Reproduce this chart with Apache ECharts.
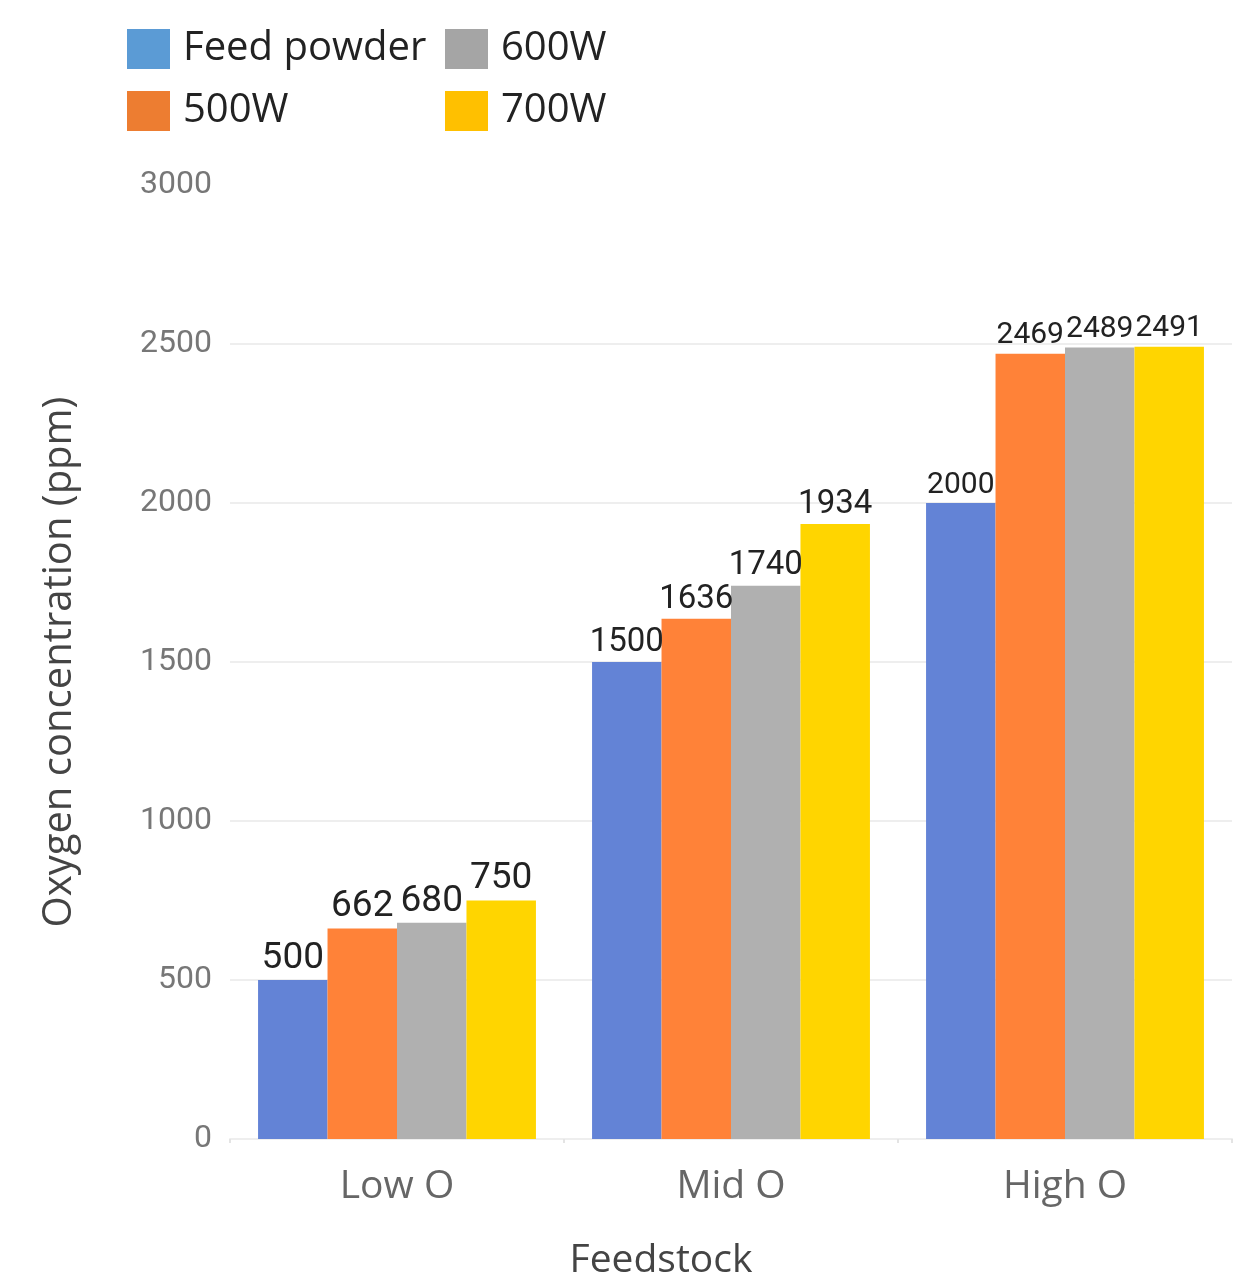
<!DOCTYPE html>
<html>
<head>
<meta charset="utf-8">
<script src="https://cdn.jsdelivr.net/npm/echarts@6/dist/echarts.min.js"></script>
<style>
  html, body { margin: 0; padding: 0; background: #fff; }
  #chart { width: 1238px; height: 1285px; }
</style>
</head>
<body>
<div id="chart"></div>
<script>
// Oxygen content by feedstock and processing power
const categories = ['Low O', 'Mid O', 'High O'];
const seriesNames = ['Feed powder', '500W', '600W', '700W'];
const feedPowder = [500, 1500, 2000];
const w500 = [662, 1636, 2469];
const w600 = [680, 1740, 2489];
const w700 = [750, 1934, 2491];
const yTicks = { min: 0, max: 3000, interval: 500 };

const barColors = ['#6383D6', '#FF8238', '#B0B0B0', '#FFD500'];
const legendColors = ['#5B9BD5', '#ED7D31', '#A5A5A5', '#FFC000'];
const labelSizes = [37, 33, 30];
const NUM_FONT = 'Roboto';
const TEXT_FONT = 'Open Sans';

const values = [feedPowder, w500, w600, w700];

const series = seriesNames.map((name, s) => ({
  name,
  type: 'bar',
  barGap: 0,
  barCategoryGap: '16.8%',
  itemStyle: { color: barColors[s] },
  data: values[s].map((v, i) => ({
    value: v,
    label: { fontSize: labelSizes[i] }
  })),
  label: {
    show: true,
    position: 'top',
    distance: 3,
    color: '#222',
    fontFamily: NUM_FONT
  }
}));

function legendData(names) {
  return names.map(n => ({
    name: n,
    itemStyle: { color: legendColors[seriesNames.indexOf(n)] }
  }));
}

const legendBase = {
  orient: 'vertical',
  top: 29,
  padding: 0,
  itemWidth: 43,
  itemHeight: 40,
  itemGap: 22,
  icon: 'rect',
  selectedMode: false,
  textStyle: { fontSize: 40, color: '#222', fontFamily: TEXT_FONT, padding: [0, 0, 0, 8] }
};

const chart = echarts.init(document.getElementById('chart'), null, { renderer: 'canvas' });
chart.setOption({
  animation: false,
  backgroundColor: '#fff',
  legend: [
    Object.assign({}, legendBase, { left: 127, data: legendData(['Feed powder', '500W']) }),
    Object.assign({}, legendBase, { left: 445, data: legendData(['600W', '700W']) })
  ],
  grid: { left: 230, right: 6, top: 185, bottom: 139 },
  xAxis: {
    type: 'category',
    data: categories,
    name: 'Feedstock',
    nameLocation: 'middle',
    nameGap: 102,
    nameTextStyle: { fontSize: 39, color: '#444', fontFamily: TEXT_FONT, padding: [0, 140, 0, 0] },
    axisLine: { lineStyle: { color: '#EEEEEE', width: 2 } },
    axisTick: { show: true, length: 4, lineStyle: { color: '#E4E4E4', width: 2 } },
    axisLabel: { fontSize: 39, color: '#666', margin: 28, fontFamily: TEXT_FONT }
  },
  yAxis: {
    type: 'value',
    min: yTicks.min,
    max: yTicks.max,
    interval: yTicks.interval,
    name: 'Oxygen concentration (ppm)',
    nameLocation: 'middle',
    nameGap: 150,
    nameTextStyle: { fontSize: 40, color: '#444', fontFamily: TEXT_FONT },
    axisLine: { show: false },
    axisTick: { show: false },
    splitLine: { showMaxLine: false, lineStyle: { color: '#EEEEEE', width: 2 } },
    axisLabel: {
      fontSize: 32, color: '#777', margin: 18, fontFamily: NUM_FONT,
      formatter: v => String(v)
    }
  },
  series
});
</script>
</body>
</html>
